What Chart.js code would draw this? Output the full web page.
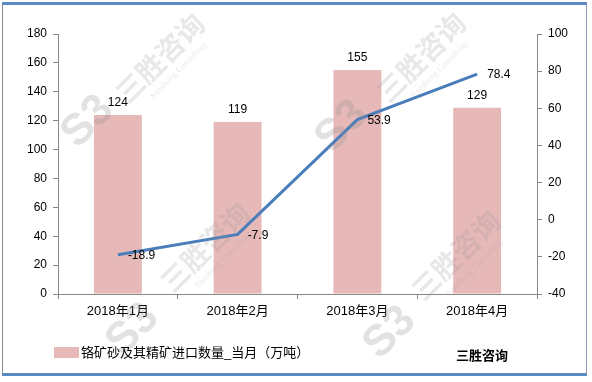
<!DOCTYPE html>
<html><head><meta charset="utf-8">
<script src="https://cdn.jsdelivr.net/npm/chart.js@4/dist/chart.umd.min.js"></script>
<style>
html,body{margin:0;padding:0;background:#fff;}
#wrap{position:absolute;left:0;top:0;width:592px;height:382px;}
#frame{position:absolute;left:2px;top:2px;width:585px;height:374px;border-left:1px solid #8c8c8c;border-right:1px solid #8c9bb5;border-top:3px solid #5a8ac6;border-bottom:3px solid #5a8ac6;box-sizing:border-box;pointer-events:none;}
canvas{position:absolute;left:0;top:0;}
</style></head><body>
<div id="wrap"><canvas id="c" width="592" height="382"></canvas><div id="frame"></div></div>
<script>
const categories = ['2018年1月','2018年2月','2018年3月','2018年4月'];
const importVolume = [124, 119, 155, 129];
const growthRate = [-18.9, -7.9, 53.9, 78.4];
const barLabel = '铬矿砂及其精矿进口数量_当月（万吨）';
const sourceText = '三胜咨询';
const watermarkText = '三胜咨询';
const watermarkSub = 'Sansheng Consulting';

const FONT = "'Liberation Sans', Arial, 'Noto Sans CJK SC', sans-serif";

const labelPlugin = {
  id: 'labels',
  afterDatasetsDraw(chart) {
    const ctx = chart.ctx;
    ctx.save();
    // faint watermarks
    const marks = [[160,58,88,122],[421,57,342,127],[205,247,133,330],[456,255,390,333]];
    marks.forEach(([tx,ty,lx,ly]) => {
      ctx.save();
      ctx.translate(tx, ty);
      ctx.rotate(-Math.PI/4);
      ctx.fillStyle = 'rgba(150,150,150,0.22)';
      ctx.font = "bold 28px 'Noto Sans CJK SC', sans-serif";
      ctx.textAlign = 'center'; ctx.textBaseline = 'middle';
      ctx.fillText(watermarkText, 0, 0);
      ctx.font = "9px 'Liberation Serif', serif";
      ctx.fillText(watermarkSub, 4, 22);
      ctx.restore();
      ctx.save();
      ctx.translate(lx, ly);
      ctx.rotate(-Math.PI/4);
      ctx.fillStyle = 'rgba(140,140,140,0.25)';
      ctx.font = "bold 44px 'Liberation Sans', sans-serif";
      ctx.textAlign = 'center'; ctx.textBaseline = 'middle';
      ctx.fillText('S3', 0, 0);
      ctx.restore();
    });
    ctx.font = "12px " + FONT;
    ctx.fillStyle = '#000';
    const m0 = chart.getDatasetMeta(0);
    m0.data.forEach((el, i) => {
      ctx.textAlign = 'center'; ctx.textBaseline = 'bottom';
      ctx.fillText(String(importVolume[i]), el.x, el.y - 6);
    });
    const m1 = chart.getDatasetMeta(1);
    m1.data.forEach((el, i) => {
      ctx.textAlign = 'left'; ctx.textBaseline = 'middle';
      ctx.fillText(growthRate[i].toFixed(1), el.x + 10, el.y + 1);
    });
    // legend
    ctx.fillStyle = '#e6b9b8';
    ctx.fillRect(54, 347, 25, 11);
    ctx.fillStyle = '#000';
    ctx.font = "13px " + FONT;
    ctx.textAlign = 'left'; ctx.textBaseline = 'middle';
    ctx.fillText(barLabel, 81, 353);
    ctx.font = "bold 13px " + FONT;
    ctx.fillText(sourceText, 456, 356);
    ctx.restore();
  }
};

new Chart(document.getElementById('c'), {
  type: 'bar',
  data: {
    labels: categories,
    datasets: [
      { type: 'bar', label: barLabel, data: importVolume, backgroundColor: '#e6b9b8', yAxisID: 'y', barPercentage: 0.4, categoryPercentage: 1.0, order: 2 },
      { type: 'line', label: '增速', data: growthRate, borderColor: '#4a7ebb', borderWidth: 3, pointRadius: 0, tension: 0, fill: false, yAxisID: 'y1', order: 1 }
    ]
  },
  options: {
    responsive: false, animation: false, devicePixelRatio: 1,
    layout: { padding: { left: 0, right: 0, top: 34, bottom: 58 } },
    plugins: { legend: { display: false }, tooltip: { enabled: false } },
    scales: {
      x: {
        grid: { display: true, drawOnChartArea: false, drawTicks: true, tickLength: 5, color: '#868686', offset: true },
        border: { display: true, color: '#868686' },
        ticks: { font: { size: 13, family: FONT }, color: '#000', padding: 5, maxRotation: 0 },
        afterFit(s) { s.height = 30; }
      },
      y: {
        position: 'left', min: 0, max: 180,
        grid: { display: true, drawOnChartArea: false, drawTicks: true, tickLength: 5, color: '#868686' },
        border: { display: true, color: '#868686' },
        ticks: { stepSize: 20, font: { size: 12, family: FONT }, color: '#000', padding: 6 },
        afterFit(s) { s.width = 58; }
      },
      y1: {
        position: 'right', min: -40, max: 100,
        grid: { display: true, drawOnChartArea: false, drawTicks: true, tickLength: 5, color: '#868686' },
        border: { display: true, color: '#868686' },
        ticks: { stepSize: 20, font: { size: 12, family: FONT }, color: '#000', padding: 6 },
        afterFit(s) { s.width = 55; }
      }
    }
  },
  plugins: [labelPlugin]
});
</script>
</body></html>
